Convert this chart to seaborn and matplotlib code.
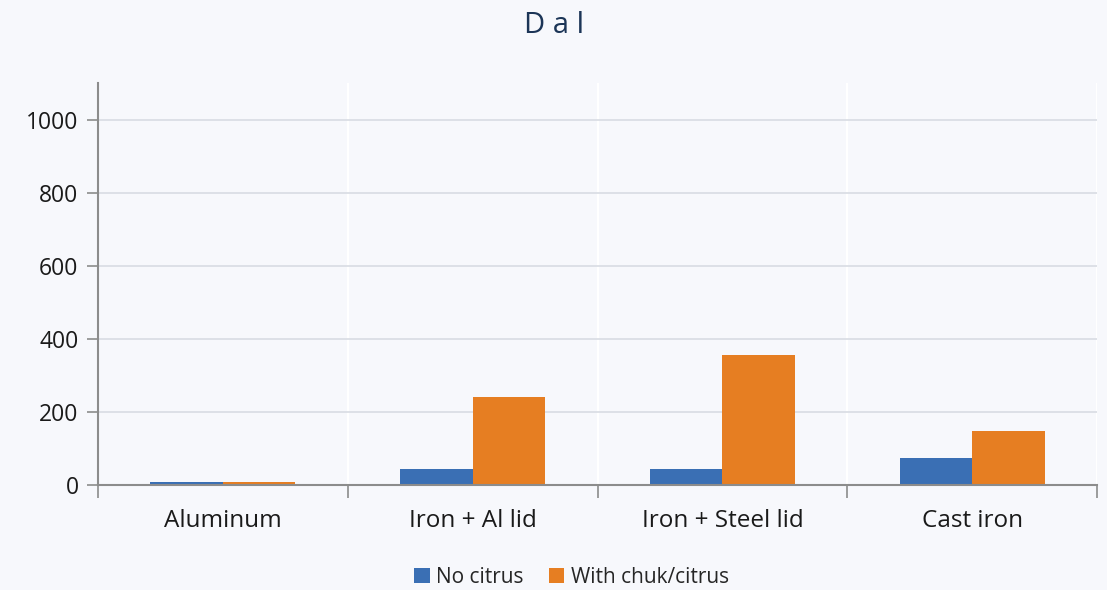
import pandas as pd
import numpy as np
import matplotlib.pyplot as plt
import seaborn as sns
from matplotlib.ticker import FixedLocator

# Chart data
categories = ['Aluminum', 'Iron + Al lid', 'Iron + Steel lid', 'Cast iron']
no_citrus = [8, 44, 44, 74]
with_citrus = [8, 241, 356, 148]
series_names = ['No citrus', 'With chuk/citrus']

df = pd.DataFrame({
    'category': categories * 2,
    'value': no_citrus + with_citrus,
    'series': [series_names[0]] * 4 + [series_names[1]] * 4,
})

bg = '#F7F8FC'
sns.set_theme(style="white")
plt.rcParams['font.family'] = ['Open Sans', 'DejaVu Sans']

fig = plt.figure(figsize=(11.07, 5.90), dpi=100, facecolor=bg)
ax = fig.add_axes([0.0885, 0.178, 0.9025, 0.681])
ax.set_facecolor(bg)

sns.barplot(data=df, x='category', y='value', hue='series',
            palette=['#3A6FB4', '#E67E22'], width=0.58, gap=0,
            saturation=1, linewidth=0, edgecolor='none', ax=ax, legend=True)

ax.set_ylim(0, 1100)
ax.set_xlim(-0.5, 3.5)
ax.set_yticks([0, 200, 400, 600, 800, 1000])
ax.grid(axis='y', color='#D8DCE3', linewidth=1.2)
ax.set_axisbelow(True)

# category boundaries as white vertical lines and outward ticks
for b in [0.5, 1.5, 2.5, 3.5]:
    ax.axvline(b, color='white', linewidth=1.5, zorder=0)
ax.xaxis.set_major_locator(FixedLocator([-0.5, 0.5, 1.5, 2.5, 3.5]))
ax.xaxis.set_minor_locator(FixedLocator([0, 1, 2, 3]))
ax.set_xticklabels([])
ax.set_xticklabels(categories, minor=True)
ax.tick_params(axis='x', which='major', length=9, width=1.2, color='#8C8C8C', direction='out', bottom=True)
ax.tick_params(axis='x', which='minor', length=0, labelsize=17.5, pad=17, labelcolor='#1A1A1A')
ax.tick_params(axis='y', length=8, width=1.2, color='#8C8C8C', direction='out', left=True,
               labelsize=16.5, labelcolor='#1A1A1A', pad=6)

for side in ['top', 'right']:
    ax.spines[side].set_visible(False)
for side in ['left', 'bottom']:
    ax.spines[side].set_color('#8C8C8C')
    ax.spines[side].set_linewidth(1.5)

ax.set_xlabel('')
ax.set_ylabel('')

fig.text(0.5, 0.957, 'D a l', ha='center', va='center', fontsize=21, color='#1C3557')

handles, labels = ax.get_legend_handles_labels()
ax.legend(handles, labels, loc='center', bbox_to_anchor=(0.474, -0.23), ncol=2,
          frameon=False, fontsize=15, handlelength=0.75, handleheight=0.75,
          handletextpad=0.3, columnspacing=1.2, borderaxespad=0)

fig.savefig('out.png', dpi=100, facecolor=bg)
